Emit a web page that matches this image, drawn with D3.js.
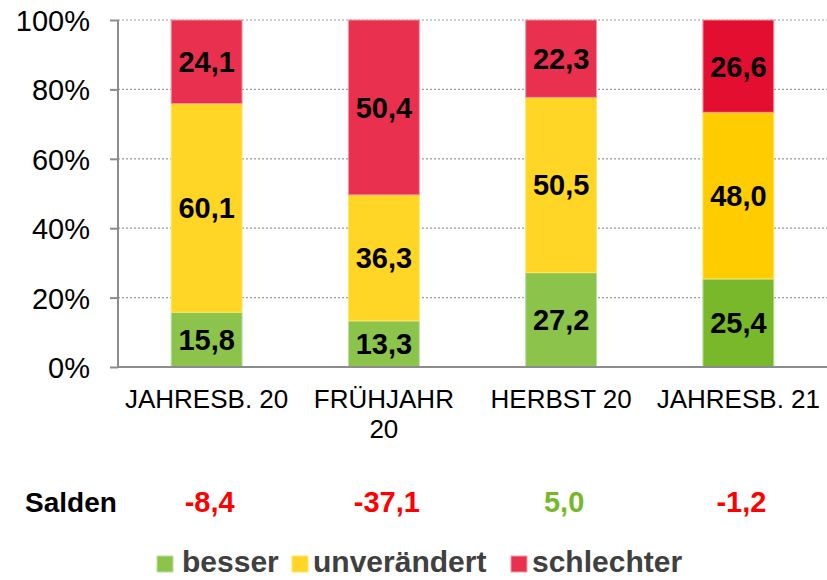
<!DOCTYPE html>
<html>
<head>
<meta charset="utf-8">
<script src="https://cdn.jsdelivr.net/npm/d3@7"></script>
<style>
  body { margin: 0; background: #fff; }
  svg { font-family: "Liberation Sans", Arial, sans-serif; display: block; }
  .grid line { stroke: #9a9a9a; stroke-dasharray: 2,2; stroke-width: 1.2; }
  .axis path, .axis line { stroke: #8c8c8c; stroke-width: 2; }
</style>
</head>
<body>
<div id="chart"></div>
<script>
// categories and values
var categories = ["JAHRESB. 20", "FRÜHJAHR 20", "HERBST 20", "JAHRESB. 21"];
var catLines = [["JAHRESB. 20"], ["FRÜHJAHR", "20"], ["HERBST 20"], ["JAHRESB. 21"]];
var besser = [15.8, 13.3, 27.2, 25.4];
var unveraendert = [60.1, 36.3, 50.5, 48.0];
var schlechter = [24.1, 50.4, 22.3, 26.6];
var salden = [-8.4, -37.1, 5.0, -1.2];
var seriesNames = ["besser", "unverändert", "schlechter"];
var yTicks = [0, 20, 40, 60, 80, 100];

// colours: normal bars, and the latest (highlighted) bar
var colors = ["#8bc34b", "#ffd526", "#e9304e"];
var colorsLast = ["#78b82a", "#ffcc00", "#e30e30"];
var strokes = ["#b9e0a0", "#ffe866", "#f29aa6"];

var margin = {top: 20, right: 0, bottom: 213, left: 118},
    width = 827 - margin.left - margin.right,
    height = 580 - margin.top - margin.bottom;

var svg = d3.select("#chart")
  .append("svg")
    .attr("width", 827)
    .attr("height", 580)
  .append("g")
    .attr("transform", "translate(" + margin.left + "," + margin.top + ")");

var x = d3.scaleBand()
  .domain(categories)
  .range([0, width])
  .paddingInner(0.6)
  .paddingOuter(0.3);

var y = d3.scaleLinear()
  .domain([0, 100])
  .range([height, 0]);

var de = d3.formatLocale({decimal: ",", thousands: ".", grouping: [3], currency: ["", "€"], minus: "-"});
var fmt = de.format(".1f");

// gridlines
svg.append("g")
  .attr("class", "grid")
  .selectAll("line")
  .data(yTicks.filter(function(d){ return d > 0; }))
  .enter().append("line")
    .attr("x1", 0)
    .attr("x2", width)
    .attr("y1", function(d){ return y(d); })
    .attr("y2", function(d){ return y(d); });

// stacked data
var rows = categories.map(function(c, i){
  return {cat: c, besser: besser[i], "unverändert": unveraendert[i], schlechter: schlechter[i], idx: i};
});
var stack = d3.stack().keys(seriesNames)(rows);

var layers = svg.selectAll(".layer")
  .data(stack)
  .enter().append("g")
    .attr("class", "layer");

layers.selectAll("rect")
  .data(function(d, k){ return d.map(function(p){ p.k = k; return p; }); })
  .enter().append("rect")
    .attr("x", function(d){ return x(d.data.cat); })
    .attr("width", x.bandwidth())
    .attr("y", function(d){ return y(d[1]); })
    .attr("height", function(d){ return y(d[0]) - y(d[1]); })
    .attr("fill", function(d){ return d.data.idx === 3 ? colorsLast[d.k] : colors[d.k]; })
    .attr("stroke", function(d){ return strokes[d.k]; })
    .attr("stroke-width", 1);

layers.selectAll("text")
  .data(function(d){ return d; })
  .enter().append("text")
    .attr("x", function(d){ return x(d.data.cat) + x.bandwidth() / 2; })
    .attr("y", function(d){ return (y(d[0]) + y(d[1])) / 2; })
    .attr("dy", "0.36em")
    .attr("text-anchor", "middle")
    .style("font-size", "29px")
    .style("font-weight", "bold")
    .style("fill", "#000")
    .text(function(d){ return fmt(d[1] - d[0]); });

// y axis
var yAxis = d3.axisLeft(y)
  .tickValues(yTicks)
  .tickSize(8)
  .tickPadding(20)
  .tickFormat(function(d){ return d + "%"; });

var gy = svg.append("g")
  .attr("class", "axis")
  .call(yAxis);
gy.select(".domain").attr("d", "M0,0V" + height);
gy.selectAll("text")
  .style("font-size", "29px")
  .style("fill", "#000")
  .attr("dy", "0.36em");

// x axis line
svg.append("g")
  .attr("class", "axis")
  .append("line")
    .attr("x1", 0)
    .attr("x2", width)
    .attr("y1", height)
    .attr("y2", height);

// category labels
var catLabels = svg.selectAll(".cat")
  .data(categories)
  .enter().append("text")
    .attr("class", "cat")
    .attr("text-anchor", "middle")
    .attr("x", function(d){ return x(d) + x.bandwidth() / 2; })
    .attr("y", height + 41)
    .style("font-size", "26px")
    .style("fill", "#000");
catLabels.each(function(d, i){
  var t = d3.select(this);
  catLines[i].forEach(function(line, j){
    t.append("tspan")
      .attr("x", x(d) + x.bandwidth() / 2)
      .attr("dy", j === 0 ? 0 : 30)
      .text(line);
  });
});

// Salden row
svg.append("text")
  .attr("x", 25 - margin.left)
  .attr("y", 512 - margin.top)
  .style("font-size", "28px")
  .style("font-weight", "bold")
  .style("fill", "#000")
  .text("Salden");

svg.selectAll(".saldo")
  .data(salden)
  .enter().append("text")
    .attr("class", "saldo")
    .attr("text-anchor", "middle")
    .attr("x", function(d, i){ return x(categories[i]) + x.bandwidth() / 2 + 3; })
    .attr("y", 512 - margin.top)
    .style("font-size", "29px")
    .style("font-weight", "bold")
    .style("fill", function(d){ return d < 0 ? "#ff0000" : "#77b82a"; })
    .text(function(d){ return fmt(d); });

// legend
var legendX = [157, 292, 511];
var legend = svg.append("g")
  .attr("transform", "translate(" + (-margin.left) + "," + (-margin.top) + ")");
var lg = legend.selectAll(".lg")
  .data(seriesNames)
  .enter().append("g")
    .attr("class", "lg")
    .attr("transform", function(d, i){ return "translate(" + legendX[i] + ",0)"; });
lg.append("rect")
  .attr("y", 556)
  .attr("width", 16)
  .attr("height", 16)
  .attr("fill", function(d, i){ return colors[i]; })
  .attr("stroke", function(d, i){ return strokes[i]; })
  .attr("stroke-width", 1);
lg.append("text")
  .attr("x", function(d, i){ return i === 0 ? 25 : 21; })
  .attr("y", 572)
  .style("font-size", "30px")
  .style("font-weight", "bold")
  .style("fill", "#404040")
  .text(function(d){ return d; });
</script>
</body>
</html>
